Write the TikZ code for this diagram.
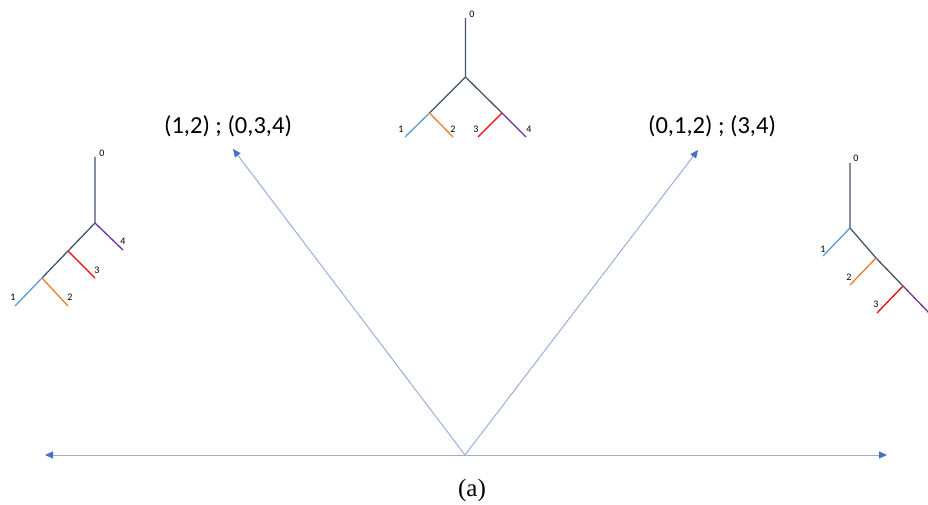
\documentclass[tikz,border=0pt]{standalone}
\usepackage{fontspec}
\setmainfont{Carlito}
\newfontfamily\serifcap{Liberation Serif}
\usetikzlibrary{arrows.meta}
\definecolor{navy}{HTML}{44546A}
\definecolor{lblue}{HTML}{5B9BD5}
\definecolor{lorange}{HTML}{ED7D31}
\definecolor{lred}{HTML}{FF0000}
\definecolor{lpurple}{HTML}{7030A0}
\definecolor{axisline}{HTML}{8FAADC}
\definecolor{axisgray}{HTML}{A5ADC4}
\definecolor{tipblue}{HTML}{4472C4}
\tikzset{
  branch/.style={line width=1.3pt},
  leaflabel/.style={font=\fontsize{10}{11}\selectfont, inner sep=0pt},
  biglabel/.style={font=\fontsize{24.5}{28}\selectfont, inner sep=0pt},
  axisarrow/.style={line width=0.9pt, -{Triangle[length=8pt,width=7pt,color=tipblue]}},
}
\begin{document}
\begin{tikzpicture}[x=1pt,y=-1pt]
\useasboundingbox (0,0) rectangle (928,505);
\fill[white] (0,0) rectangle (928,505);
\clip (0,0) rectangle (928,505);

% ---------- top tree ----------
\coordinate (t0) at (465.5,18);
\coordinate (tj) at (465.5,77);
\coordinate (tl) at (429.5,113);
\coordinate (tr) at (502,113);
\coordinate (t1) at (405,137);
\coordinate (t2) at (453,137);
\coordinate (t3) at (478,137);
\coordinate (t4) at (526,137);
\draw[branch,navy] (t0) -- (tj) (tj) -- (tl) (tj) -- (tr);
\draw[branch,lblue] (tl) -- (t1);
\draw[branch,lorange] (tl) -- (t2);
\draw[branch,lred] (tr) -- (t3);
\draw[branch,lpurple] (tr) -- (t4);
\node[leaflabel] (tL0) at (472,14) {0};
\node[leaflabel] (tL1) at (401,129) {1};
\node[leaflabel] (tL2) at (453,129) {2};
\node[leaflabel] (tL3) at (476,129) {3};
\node[leaflabel] (tL4) at (529,129) {4};

% ---------- left tree ----------
\coordinate (l0) at (95,157);
\coordinate (lj) at (95,223);
\coordinate (l4) at (123,250);
\coordinate (lk) at (68,251);
\coordinate (l3) at (95,278);
\coordinate (lm) at (42,278);
\coordinate (l1) at (15,306);
\coordinate (l2) at (68,306);
\draw[branch,navy] (l0) -- (lj) (lj) -- (lk) (lk) -- (lm);
\draw[branch,lpurple] (lj) -- (l4);
\draw[branch,lred] (lk) -- (l3);
\draw[branch,lblue] (lm) -- (l1);
\draw[branch,lorange] (lm) -- (l2);
\node[leaflabel] (lL0) at (102,153) {0};
\node[leaflabel] (lL4) at (123,241) {4};
\node[leaflabel] (lL3) at (97,270) {3};
\node[leaflabel] (lL1) at (13,297) {1};
\node[leaflabel] (lL2) at (70,297) {2};

% ---------- right tree ----------
\coordinate (r0) at (850,163);
\coordinate (rj) at (850,228);
\coordinate (r1) at (823,256);
\coordinate (rk) at (876,258);
\coordinate (r2) at (850,285);
\coordinate (rm) at (903,286);
\coordinate (r3) at (877,313);
\coordinate (r4) at (932,316);
\draw[branch,navy] (r0) -- (rj) (rj) -- (rk) (rk) -- (rm);
\draw[branch,lblue] (rj) -- (r1);
\draw[branch,lorange] (rk) -- (r2);
\draw[branch,lred] (rm) -- (r3);
\draw[branch,lpurple] (rm) -- (r4);
\node[leaflabel] (rL0) at (856,158) {0};
\node[leaflabel] (rL1) at (823,249) {1};
\node[leaflabel] (rL2) at (849,277) {2};
\node[leaflabel] (rL3) at (876,304) {3};

% ---------- axes ----------
\coordinate (o) at (465,455);
\coordinate (axL) at (45,455);
\coordinate (axR) at (887,455);
\coordinate (dL) at (233,149);
\coordinate (dR) at (698,150);
\draw[axisarrow,axisgray] (o) -- (axL);
\draw[axisarrow,axisgray] (o) -- (axR);
\draw[axisarrow,axisline] (o) -- (dL);
\draw[axisarrow,axisline] (o) -- (dR);

\node[biglabel] (labL) at (228,126) {(1,2) ; (0,3,4)};
\node[biglabel] (labR) at (712,126) {(0,1,2) ; (3,4)};
\node[font=\serifcap\fontsize{25}{28}\selectfont, inner sep=0pt] (cap) at (472,490) {(a)};
\end{tikzpicture}
\end{document}
